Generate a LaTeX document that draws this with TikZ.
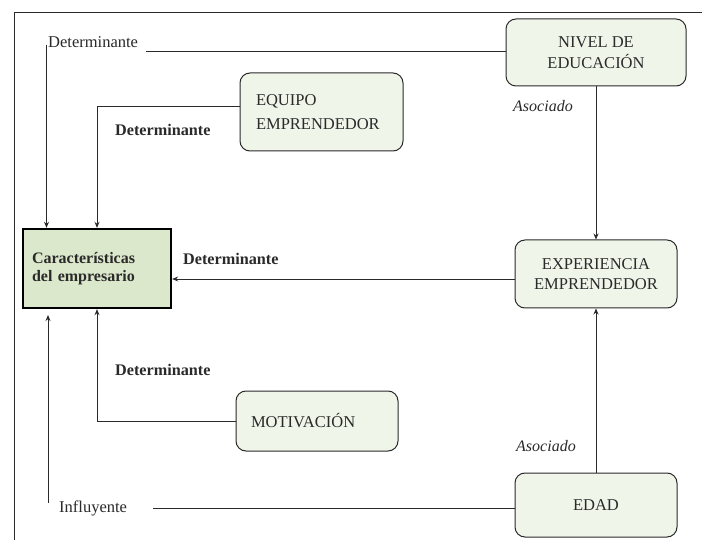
\documentclass[tikz,border=0pt]{standalone}
\usepackage{fontspec}
\setmainfont{Liberation Serif}
\newfontfamily\boxfont{Liberation Serif}
\usetikzlibrary{arrows.meta}
\definecolor{boxfill}{HTML}{F0F5E9}
\definecolor{mainfill}{HTML}{DCE8CB}
\definecolor{ink}{HTML}{2A2A2A}
\begin{document}
\begin{tikzpicture}[x=1pt,y=-1pt,
  every node/.style={font=\boxfont\fontsize{16.5}{20}\selectfont, text=ink},
  factor/.style={draw=ink, line width=1pt, rounded corners=10pt, fill=boxfill,
    inner sep=0pt, align=center},
  mainbox/.style={draw=black, line width=2.4pt, fill=mainfill, inner sep=0pt,
    minimum width=148pt, minimum height=79pt, text width=130pt, align=left,
    font=\boxfont\bfseries\fontsize{16}{18.5}\selectfont},
  rel/.style={font=\boxfont\bfseries\fontsize{16.2}{18}\selectfont, anchor=base west, inner sep=0pt},
  relplain/.style={font=\boxfont\fontsize{16.5}{18}\selectfont, anchor=base west, inner sep=0pt},
  relit/.style={font=\boxfont\itshape\fontsize{16}{18}\selectfont, anchor=base west, inner sep=0pt},
  link/.style={draw=ink, line width=0.9pt},
  arr/.style={link, -{Stealth[length=6pt,width=5pt]}}]
\useasboundingbox (0,0) rectangle (702,540);
\fill[white] (0,0) rectangle (702,540);

% frame
\coordinate (frameTL) at (14,12.7);
\coordinate (frameTR) at (702,12.7);
\coordinate (frameBL) at (14,540);
\draw[ink, line width=1pt] (frameBL) -- (frameTL) -- (frameTR);

% boxes
\node[mainbox] (car) at (97,268.5) {Características\\[-1pt]del empresario};
\node[factor, minimum width=180pt, minimum height=67pt,
  font=\boxfont\fontsize{16.5}{21}\selectfont] (nivel) at (596,52.5) {NIVEL DE\\EDUCACIÓN};
\node[factor, minimum width=163pt, minimum height=78pt, text width=131pt, align=left,
  font=\boxfont\fontsize{16.5}{24}\selectfont] (equipo) at (321.5,112) {EQUIPO\\EMPRENDEDOR};
\node[factor, minimum width=162pt, minimum height=68pt,
  font=\boxfont\fontsize{16.5}{20}\selectfont] (exper) at (596,274) {EXPERIENCIA\\EMPRENDEDOR};
\node[factor, minimum width=162pt, minimum height=60pt, text width=132pt, align=left] (motiv) at (317,421) {MOTIVACIÓN};
\node[factor, minimum width=162pt, minimum height=64pt] (edad) at (596,505) {EDAD};

% labels
\node[relplain] (lblNivel) at (48,48) {Determinante};
\node[rel] (lblEquipo) at (115,136) {Determinante};
\node[rel] (lblExper) at (183,265) {Determinante};
\node[rel] (lblMotiv) at (115,375) {Determinante};
\node[relplain] (lblEdad) at (59,512) {Influyente};
\node[relit] (lblAsocA) at (513,112) {Asociado};
\node[relit] (lblAsocB) at (516,451) {Asociado};

% free ends of the split connectors
\coordinate (nivelEnd) at (146,51);
\coordinate (nivelStart) at (46.5,45);
\coordinate (edadEnd) at (153,508);
\coordinate (edadStart) at (48,503);
\coordinate (edadTip) at (48,315);

% connectors
\draw[link] (nivel.west |- nivelEnd) -- (nivelEnd);
\draw[arr] (nivelStart) -- (nivelStart |- car.north);
\draw[arr] ([yshift=6pt]equipo.west) -| (car.north);
\draw[arr] (exper.west |- 0,279) -- (car.east |- 0,279);
\draw[arr] (motiv.west) -| (car.south);
\draw[link] (edad.west |- edadEnd) -- (edadEnd);
\draw[arr] (edadStart) -- (edadTip);
\draw[arr] (nivel.south) -- (exper.north);
\draw[arr] (edad.north) -- (exper.south);
\end{tikzpicture}
\end{document}
